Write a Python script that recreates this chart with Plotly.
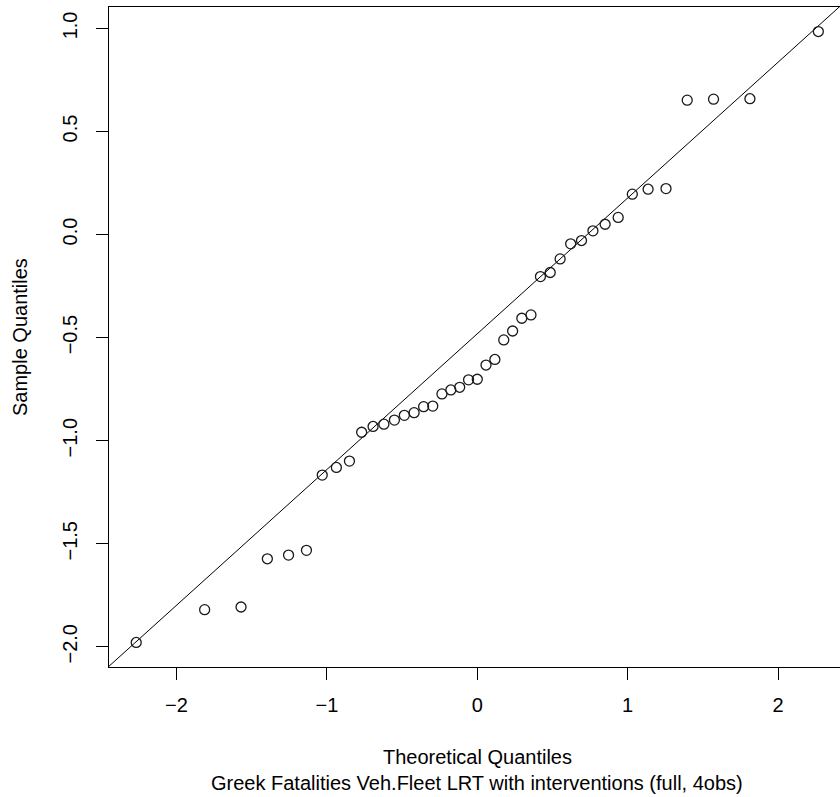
import numpy as np
import plotly.graph_objects as go

# Theoretical normal quantiles (x) and sorted sample quantiles (y)
theoretical = [-2.268, -1.813, -1.571, -1.396, -1.255, -1.136, -1.031, -0.937, -0.850,
               -0.769, -0.693, -0.621, -0.551, -0.485, -0.420, -0.357, -0.296, -0.235,
               -0.176, -0.117, -0.058, 0.0, 0.058, 0.117, 0.176, 0.235, 0.296, 0.357,
               0.420, 0.485, 0.551, 0.621, 0.693, 0.769, 0.850, 0.937, 1.031, 1.136,
               1.255, 1.396, 1.571, 1.813, 2.268]
sample = [-1.979, -1.820, -1.807, -1.573, -1.555, -1.532, -1.167, -1.130, -1.099,
          -0.959, -0.931, -0.920, -0.900, -0.877, -0.864, -0.835, -0.832, -0.773,
          -0.754, -0.741, -0.705, -0.702, -0.633, -0.606, -0.511, -0.468, -0.406,
          -0.390, -0.204, -0.184, -0.118, -0.045, -0.029, 0.018, 0.050, 0.083,
          0.196, 0.220, 0.223, 0.652, 0.657, 0.659, 0.985]

x_ticks = [-2, -1, 0, 1, 2]
x_ticklabels = ["\u22122", "\u22121", "0", "1", "2"]
y_ticks = [1.0, 0.5, 0.0, -0.5, -1.0, -1.5, -2.0]
y_ticklabels = ["1.0", "0.5", "0.0", "\u22120.5", "\u22121.0", "\u22121.5", "\u22122.0"]

xlab = "Theoretical Quantiles"
sub = "Greek Fatalities Veh.Fleet LRT with interventions (full, 4obs)"
ylab = "Sample Quantiles"

# qqline: line through the first and third quartiles
q1, q3 = np.quantile(sample, [0.25, 0.75])
z1, z3 = -0.6744898, 0.6744898
slope = (q3 - q1) / (z3 - z1)
intercept = q1 - slope * z1

x_range = [-2.449, 2.412]
y_range = [-2.098, 1.104]
line_x = [-3.0, 3.0]
line_y = [intercept + slope * v for v in line_x]

FONT = "Liberation Sans, Arial, Helvetica, sans-serif"
FS = 20

fig = go.Figure()
fig.add_trace(go.Scatter(x=line_x, y=line_y, mode="lines",
                         line=dict(color="black", width=1), hoverinfo="skip",
                         showlegend=False))
fig.add_trace(go.Scatter(x=theoretical, y=sample, mode="markers",
                         marker=dict(symbol="circle-open", size=10, color="#1a1a1a",
                                     line=dict(width=1.3, color="#1a1a1a")),
                         showlegend=False))

fig.update_layout(
    width=840, height=797,
    margin=dict(l=109, r=0, t=7, b=130),
    paper_bgcolor="white", plot_bgcolor="white",
    font=dict(family=FONT, size=FS, color="black"),
    xaxis=dict(range=x_range, tickvals=x_ticks, ticktext=x_ticklabels,
               showgrid=False, zeroline=False, showline=True, mirror=True,
               linecolor="black", linewidth=1, ticks="outside", ticklen=12,
               tickcolor="black", tickwidth=1, ticklabelstandoff=8,
               tickfont=dict(family=FONT, size=FS, color="black")),
    yaxis=dict(range=y_range, tickvals=y_ticks, ticktext=y_ticklabels,
               showgrid=False, zeroline=False, showline=True, mirror=False,
               linecolor="black", linewidth=1, ticks="outside", ticklen=12,
               tickcolor="black", tickwidth=1, tickangle=-90, ticklabelstandoff=11,
               tickfont=dict(family=FONT, size=FS, color="black")),
    annotations=[
        dict(text=xlab, x=0, xref="x", y=(667 - 757) / 660, yref="paper",
             xanchor="center", yanchor="middle", showarrow=False,
             font=dict(family=FONT, size=FS, color="black")),
        dict(text=sub, x=0, xref="x", y=(667 - 783) / 660, yref="paper",
             xanchor="center", yanchor="middle", showarrow=False,
             font=dict(family=FONT, size=FS, color="black")),
        dict(text=ylab, x=(20 - 109) / 731, xref="paper", y=0.5, yref="paper",
             xanchor="center", yanchor="middle", textangle=-90, showarrow=False,
             font=dict(family=FONT, size=FS, color="black")),
    ],
)

fig.write_html("out.html")
